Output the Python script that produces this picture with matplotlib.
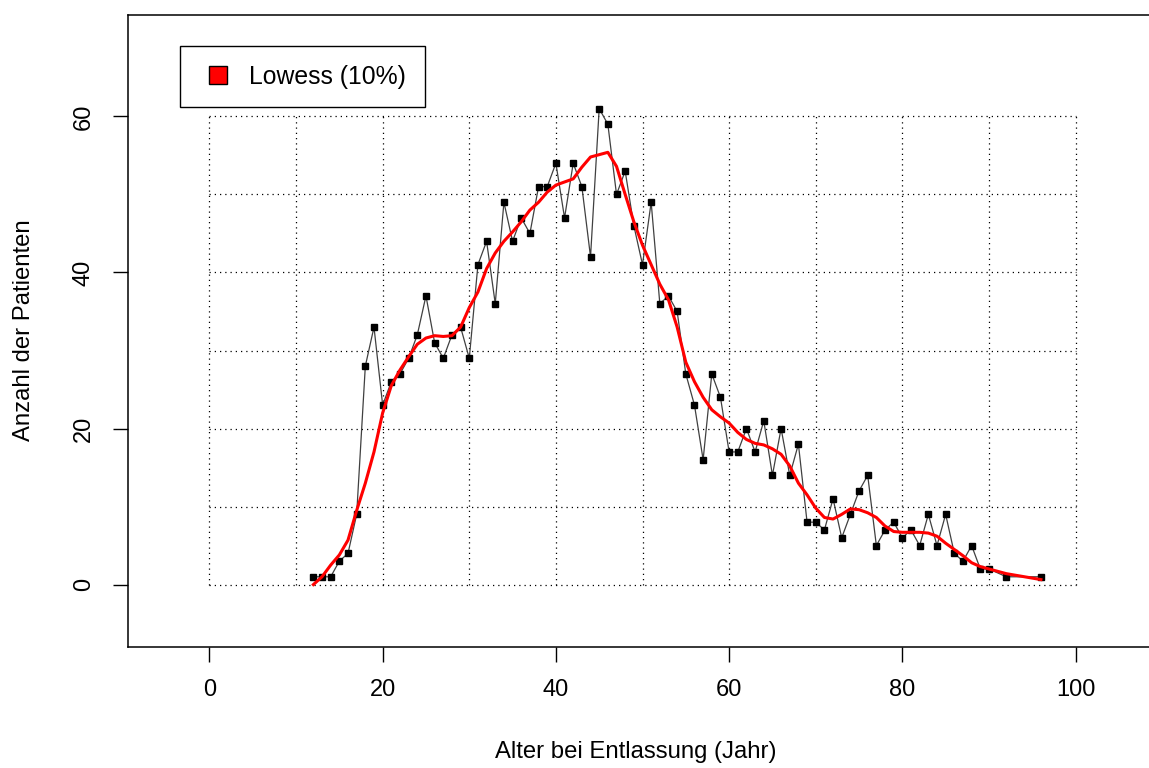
import matplotlib
matplotlib.use('Agg')
import matplotlib.pyplot as plt
from matplotlib.lines import Line2D

plt.rcParams['font.family'] = ['Liberation Sans', 'DejaVu Sans']

# age at discharge and number of patients
alter = [12, 13, 14, 15, 16, 17, 18, 19, 20, 21, 22, 23, 24, 25, 26, 27, 28, 29, 30,
         31, 32, 33, 34, 35, 36, 37, 38, 39, 40, 41, 42, 43, 44, 45, 46, 47, 48, 49, 50,
         51, 52, 53, 54, 55, 56, 57, 58, 59, 60, 61, 62, 63, 64, 65, 66, 67, 68, 69, 70,
         71, 72, 73, 74, 75, 76, 77, 78, 79, 80, 81, 82, 83, 84, 85, 86, 87, 88, 89, 90,
         92, 96]
anzahl = [1, 1, 1, 3, 4, 9, 28, 33, 23, 26, 27, 29, 32, 37, 31, 29, 32, 33, 29,
          41, 44, 36, 49, 44, 47, 45, 51, 51, 54, 47, 54, 51, 42, 61, 59, 50, 53, 46, 41,
          49, 36, 37, 35, 27, 23, 16, 27, 24, 17, 17, 20, 17, 21, 14, 20, 14, 18, 8, 8,
          7, 11, 6, 9, 12, 14, 5, 7, 8, 6, 7, 5, 9, 5, 9, 4, 3, 5, 2, 2,
          1, 1]
# lowess curve (10%) at the same ages
lowess = [0.0, 1.0, 2.5, 3.8, 5.7, 9.5, 13.0, 17.0, 22.0, 25.5, 27.5, 29.2, 30.8, 31.6, 31.9, 31.8, 31.9, 33.0, 35.5,
          37.5, 40.5, 42.5, 44.0, 45.2, 46.5, 48.0, 49.0, 50.3, 51.2, 51.6, 52.0, 53.5, 54.8, 55.1, 55.4, 53.6, 50.0, 46.5, 43.5,
          41.0, 38.5, 36.5, 33.0, 28.5, 26.0, 24.0, 22.4, 21.5, 20.7, 19.5, 18.6, 18.1, 17.9, 17.4, 16.7, 15.2, 13.0, 11.5, 9.8,
          8.6, 8.4, 9.0, 9.7, 9.6, 9.2, 8.6, 7.5, 6.8, 6.7, 6.7, 6.7, 6.6, 6.2, 5.3, 4.5, 3.7, 2.8, 2.3, 2.0,
          1.4, 0.64]

x_ticks = [0, 20, 40, 60, 80, 100]
y_ticks = [0, 20, 40, 60]
x_grid = list(range(0, 101, 10))
y_grid = list(range(0, 61, 10))

W, H = 1149, 768
fig = plt.figure(figsize=(W / 100, H / 100), dpi=100)
ax = fig.add_axes([128 / W, (H - 647) / H, (1157 - 128) / W, (647 - 15) / H])
ax.set_xlim(-9.4, 109.4)
ax.set_ylim(-8, 73)

dots = (0, (1, 3.2))
ax.hlines(y_grid, 0, 100, colors='black', linestyles=dots, linewidth=0.9, zorder=1)
ax.vlines(x_grid, 0, 60, colors='black', linestyles=dots, linewidth=0.9, zorder=1)

ax.plot(alter, anzahl, color='#404040', linewidth=0.9, marker='s', markersize=4.5,
        markerfacecolor='black', markeredgecolor='black', zorder=3)
ax.plot(alter, lowess, color='#ff0000', linewidth=2.2, zorder=4)

ax.set_xticks(x_ticks)
ax.set_yticks(y_ticks)
ax.tick_params(axis='both', length=11, width=1, labelsize=17, color='black')
ax.tick_params(axis='x', pad=12)
ax.tick_params(axis='y', pad=13)
for lab in ax.get_yticklabels():
    lab.set_rotation(90)
    lab.set_va('center')
for s in ax.spines.values():
    s.set_linewidth(1.1)

fig.text(636 / W, 1 - 752 / H, 'Alter bei Entlassung (Jahr)', ha='center', va='center', fontsize=17.2)
fig.text(24 / W, 1 - 330 / H, 'Anzahl der Patienten', ha='center', va='center', rotation=90, fontsize=17.2)

handle = Line2D([], [], linestyle='none', marker='s', markersize=13.5,
                markerfacecolor='#ff0000', markeredgecolor='black', markeredgewidth=1)
leg = ax.legend([handle], ['Lowess (10%)'], loc='upper left',
                bbox_to_anchor=(180 / W, 1 - 46 / H), bbox_transform=fig.transFigure,
                borderaxespad=0, fancybox=False, framealpha=1, edgecolor='black',
                fontsize=17.8, borderpad=0.75, handlelength=1.6, handletextpad=0.45)
leg.get_frame().set_linewidth(1)

fig.savefig('out.png', dpi=100)
